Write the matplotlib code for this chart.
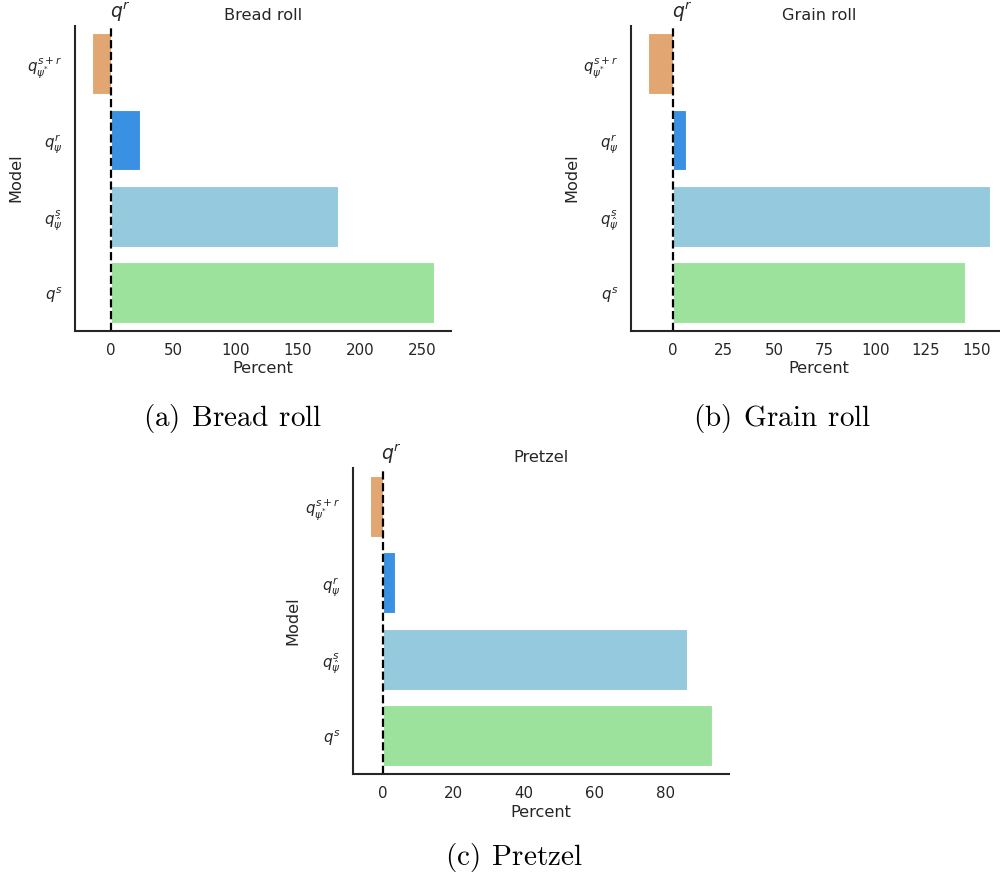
import colorsys
import matplotlib
matplotlib.use("Agg")
import matplotlib.pyplot as plt
import matplotlib.colors as mcolors

# ---- data ----
models = [r"$q^{s+r}_{\psi^{*}}$", r"$q^{r}_{\psi}$", r"$q^{s}_{\hat{\psi}}$", r"$q^{s}$"]
bread_roll = [-15.3, 22.8, 182.0, 259.0]
grain_roll = [-12.4, 6.2, 156.6, 144.5]
pretzel = [-3.6, 3.4, 85.9, 93.1]
titles = ["Bread roll", "Grain roll", "Pretzel"]
captions = ["(a) Bread roll", "(b) Grain roll", "(c) Pretzel"]
base_colors = ["sandybrown", "dodgerblue", "skyblue", "lightgreen"]


def desaturate(c, prop=0.75):
    r, g, b = mcolors.to_rgb(c)
    h, l, s = colorsys.rgb_to_hls(r, g, b)
    return colorsys.hls_to_rgb(h, l, s * prop)


colors = [desaturate(c) for c in base_colors]

plt.rcParams["font.family"] = ["DejaVu Sans"]
TXT = "#262626"

fig = plt.figure(figsize=(10, 8.8), dpi=100)

axes_rects = [
    [0.075, 0.6244, 0.3757, 0.3464],
    [0.631, 0.6244, 0.3757, 0.3464],
    [0.3527, 0.1205, 0.3766, 0.3477],
]
datasets = [bread_roll, grain_roll, pretzel]

for rect, vals, title in zip(axes_rects, datasets, titles):
    ax = fig.add_axes(rect)
    pos = list(range(len(models)))
    ax.barh(pos, vals, height=0.8, color=colors, edgecolor="white", linewidth=0.8)
    ax.set_ylim(len(models) - 0.5, -0.5)
    ax.set_yticks(pos)
    ax.set_yticklabels(models)
    ax.axvline(0, color="black", linestyle="--", linewidth=1.6)
    ax.annotate(r"$q^{r}$", xy=(0, 1), xycoords=ax.get_xaxis_transform(),
                xytext=(-1, 1.2), textcoords="offset points",
                fontsize=13.5, color=TXT, ha="left", va="bottom")
    ax.set_title(title, fontsize=11.6, color=TXT, pad=4)
    ax.set_xlabel("Percent", fontsize=11.6, color=TXT, labelpad=2.5)
    ax.set_ylabel("Model", fontsize=11.6, color=TXT, labelpad=3)
    ax.tick_params(axis="both", length=0, labelsize=10.8, colors=TXT, pad=8.8)
    for s in ["top", "right"]:
        ax.spines[s].set_visible(False)
    for s in ["left", "bottom"]:
        ax.spines[s].set_color(TXT)
        ax.spines[s].set_linewidth(1.5)

cap_pos = [(0.2328, 1 - 418 / 880), (0.7817, 1 - 418 / 880), (0.514, 1 - 857 / 880)]
for (x, y), cap in zip(cap_pos, captions):
    fig.text(x, y, r"$\mathrm{" + cap.replace(" ", r"\;\,") + "}$",
             math_fontfamily="cm", fontsize=21, ha="center", va="center", color="black")

fig.savefig("out.png", dpi=100)
